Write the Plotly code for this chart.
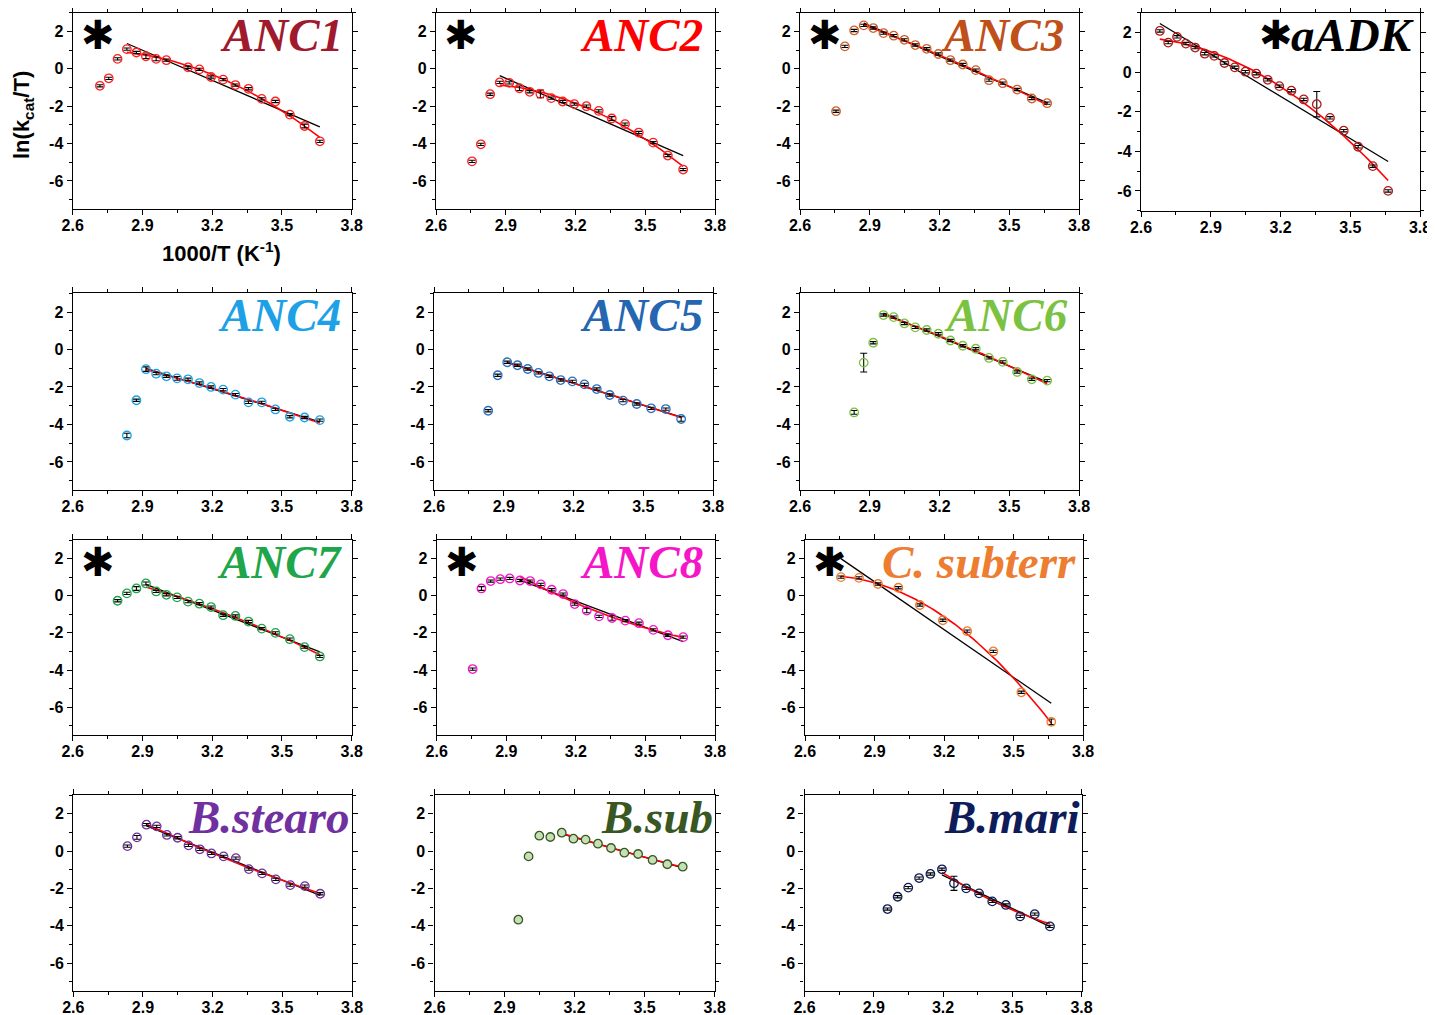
import numpy as np
import plotly.graph_objects as go

# ---------------- data ----------------
X = [2.681, 2.717, 2.755, 2.793, 2.833, 2.874, 2.915, 2.959, 3.003, 3.049,
     3.096, 3.145, 3.195, 3.247, 3.300, 3.356, 3.413, 3.472, 3.534, 3.597, 3.663]
N = None
ANC1 = [N, -0.91, -0.51, 0.53, 1.05, 0.87, 0.67, 0.53, 0.46, N, 0.08, -0.03, -0.44, -0.58,
        -0.87, -1.07, -1.61, -1.75, -2.45, -3.06, -3.88]
ANC2 = [N, N, -4.95, -4.04, -1.36, -0.73, -0.75, -1.04, -1.23, -1.34, -1.57, -1.75, -1.89,
        -2.00, -2.25, -2.66, -2.96, -3.41, -3.95, -4.64, -5.39]
ANC3 = [N, N, -2.27, 1.20, 2.05, 2.32, 2.18, 1.91, 1.77, 1.55, 1.27, 1.07, 0.79, 0.46, 0.23,
        -0.07, -0.61, -0.77, -1.11, -1.59, -1.84]
AADK = [2.08, 1.49, 1.78, 1.44, 1.24, 0.93, 0.82, 0.46, 0.24, 0.02, -0.08, -0.39, -0.71,
        -0.94, -1.38, -1.62, -2.31, -2.96, -3.77, -4.75, -6.00]
ANC4 = [N, N, N, N, -4.59, -2.71, -1.05, -1.29, -1.43, -1.54, -1.59, -1.79, -2.00, -2.14,
        -2.41, -2.82, -2.82, -3.20, -3.59, -3.63, -3.77]
ANC5 = [N, N, N, N, -3.27, -1.375, -0.68, -0.84, -1.04, -1.25, -1.43, -1.63, -1.70, -1.86,
        -2.11, -2.43, -2.73, -2.91, -3.14, -3.18, -3.71]
ANC6 = [N, N, N, N, -3.36, -0.70, 0.36, 1.84, 1.73, 1.39, 1.18, 1.04, 0.84, 0.48, 0.20,
        0.04, -0.45, -0.66, -1.20, -1.59, -1.66]
ANC7 = [N, N, N, -0.27, 0.125, 0.39, 0.66, 0.23, 0.05, -0.09, -0.32, -0.43, -0.61, -1.05,
        -1.09, -1.39, -1.77, -2.00, -2.34, -2.77, -3.27]
ANC8 = [N, N, -3.95, 0.39, 0.79, 0.89, 0.93, 0.82, 0.79, 0.61, 0.32, 0.09, -0.45, -0.80,
        -1.11, -1.20, -1.34, -1.48, -1.84, -2.13, -2.23]
CSUB = [N, N, 1.00, N, 0.96, N, 0.63, N, 0.43, N, -0.50, N, -1.32, N, -1.91, N, -3.00, N,
        -5.20, N, -6.79]
BSTEARO = [N, N, N, N, 0.26, 0.73, 1.41, 1.32, 0.86, 0.71, 0.30, 0.09, -0.13, -0.29, -0.38,
           -0.97, -1.20, -1.52, -1.83, -1.88, -2.29]
BSUB = [N, N, N, N, N, N, N, -3.68, -0.29, 0.82, 0.75, 0.98, 0.66, 0.61, 0.39, 0.16, -0.09,
        -0.16, -0.48, -0.71, -0.84]
BMARI = [N, N, N, N, N, N, N, -3.11, -2.45, -1.96, -1.45, -1.23, -0.98, -1.73, -2.00, -2.27,
         -2.70, -2.89, -3.50, -3.38, -4.04]

NAMES = ["ANC1", "ANC2", "ANC3", "aADK", "ANC4", "ANC5", "ANC6", "ANC7", "ANC8",
         "C. subterr", "B.stearo", "B.sub", "B.mari"]
SERIES = [ANC1, ANC2, ANC3, AADK, ANC4, ANC5, ANC6, ANC7, ANC8, CSUB, BSTEARO, BSUB, BMARI]
FIT_START = [4, 5, 5, 0, 6, 6, 7, 6, 7, 2, 6, 11, 12]
STARRED = [True, True, True, True, False, False, False, True, True, True, False, False, False]
ERR_DEFAULT = 0.06
ERR_LARGE = {0: {6: 0.12, 7: 0.1, 19: 0.1}, 1: {9: 0.2, 7: 0.12, 15: 0.1}, 3: {15: 0.64},
             4: {4: 0.12, 6: 0.12, 9: 0.1}, 5: {20: 0.12}, 6: {5: 0.5, 4: 0.1},
             7: {5: 0.1, 6: 0.08}, 8: {13: 0.12, 15: 0.12, 3: 0.1}, 9: {20: 0.15},
             10: {5: 0.1}, 12: {13: 0.38}}

X_TICKS = [2.6, 2.9, 3.2, 3.5, 3.8]
X_TICK_TEXT = ["2.6", "2.9", "3.2", "3.5", "3.8"]
Y_TICKS = [-6, -4, -2, 0, 2]
Y_TICK_TEXT = ["-6", "-4", "-2", "0", "2"]

# ---------------- styles ----------------
TITLE_COLORS = ["#A0192D", "#FF0000", "#C0501A", "#000000", "#1DA1E6", "#2467B0", "#7CC241",
                "#1FA64A", "#F516C8", "#ED7D31", "#7030A0", "#385723", "#0E1D5A"]
MARKER_COLORS = ["#FF2020", "#FF2020", "#D0602A", "#B01A1A", "#1DA1E6", "#2A70C0", "#7CC241",
                 "#1FA64A", "#F516C8", "#ED7D31", "#7030A0", "#385723", "#0E1D5A"]
# panel boxes in page pixels: left, right, top, bottom, ymin, title right edge
BOXES = [
    (72.7, 351.7, 12.7, 209, -7.5, 345), (436, 715, 12.7, 209, -7.5, 705),
    (800, 1079, 12.7, 209, -7.5, 1066), (1141, 1420, 12.7, 210.7, -7.0, 1416),
    (72.7, 351.7, 293.3, 490, -7.5, 343), (434, 713, 293.3, 490, -7.5, 705),
    (800, 1079, 293.3, 490, -7.5, 1070),
    (72.7, 351.7, 540, 735, -7.5, 345), (436.7, 715, 540, 735, -7.5, 705),
    (805, 1083, 540, 735, -7.5, 1078),
    (73.3, 352, 795, 991, -7.5, 352), (434.5, 714.7, 795, 991, -7.5, 715),
    (804.6, 1081.6, 795, 991, -7.5, 1082),
]
OFF = 8  # page body margin
W, H = 1435 - OFF, 1015 - OFF
SANS = "Liberation Sans, Arial, sans-serif"
SERIF = "Liberation Serif, Times New Roman, serif"


def px(xp):
    return (xp - OFF) / W


def py(yp):
    return 1 - (yp - OFF) / H


fig = go.Figure()
layout = dict(width=W, height=H, margin=dict(l=0, r=0, t=0, b=0, autoexpand=False),
              paper_bgcolor="white", plot_bgcolor="white", showlegend=False)
annotations = []

for i, (name, ys) in enumerate(zip(NAMES, SERIES)):
    sfx = "" if i == 0 else str(i + 1)
    xa, ya = "x" + sfx, "y" + sfx
    left, right, top, bottom, ymin, tright = BOXES[i]

    xs = np.array([x for x, y in zip(X, ys) if y is not None])
    yv = np.array([y for y in ys if y is not None], dtype=float)
    idx = [k for k, y in enumerate(ys) if y is not None]
    errs = [ERR_LARGE.get(i, {}).get(k, ERR_DEFAULT) for k in idx]

    # fits over the fitting range
    fx = np.array([X[k] for k in idx if k >= FIT_START[i]])
    fy = np.array([ys[k] for k in idx if k >= FIT_START[i]])
    grid = np.linspace(fx.min(), fx.max(), 80)
    lin = np.polyval(np.polyfit(fx, fy, 1), [fx.min(), fx.max()])
    quad = np.polyval(np.polyfit(fx, fy, 2), grid)

    fig.add_trace(go.Scatter(x=[fx.min(), fx.max()], y=lin, mode="lines",
                             line=dict(color="black", width=1.3), xaxis=xa, yaxis=ya,
                             hoverinfo="skip"))
    fig.add_trace(go.Scatter(x=grid, y=quad, mode="lines",
                             line=dict(color="#FF0000", width=1.6), xaxis=xa, yaxis=ya,
                             hoverinfo="skip"))
    mc = MARKER_COLORS[i]
    if name == "B.sub":
        marker = dict(symbol="circle", size=8.5, color="#C5E0B4", line=dict(color=mc, width=1.3))
    else:
        marker = dict(symbol="circle-open", size=8.5, color=mc, line=dict(color=mc, width=1.3))
    fig.add_trace(go.Scatter(x=xs, y=yv, mode="markers", marker=marker,
                             error_y=dict(type="data", array=errs, color="black",
                                          thickness=1.1, width=3.5),
                             xaxis=xa, yaxis=ya))

    xd = [px(left), px(right)]
    yd = [py(bottom), py(top)]
    tickfont = dict(family=SANS, size=16, color="black", weight="bold")
    common = dict(showline=True, linecolor="black", linewidth=1.4, mirror="allticks",
                  ticks="outside", ticklen=5, tickwidth=1.3, tickcolor="black",
                  showgrid=False, zeroline=False, tickfont=tickfont, fixedrange=True,
                  automargin=False)
    layout["xaxis" + sfx] = dict(domain=xd, anchor=ya, range=[2.6 - 1e-6, 3.8 + 1e-6],
                                 tickmode="array", tickvals=X_TICKS, ticktext=X_TICK_TEXT,
                                 ticklabelstandoff=-3,
                                 minor=dict(tickmode="linear", tick0=2.6, dtick=0.15,
                                            ticklen=3, tickwidth=1, tickcolor="black",
                                            ticks="outside"),
                                 **common)
    layout["yaxis" + sfx] = dict(domain=yd, anchor=xa, range=[ymin, 3],
                                 tickmode="array", tickvals=Y_TICKS, ticktext=Y_TICK_TEXT,
                                 minor=dict(tickmode="linear", tick0=-7, dtick=1,
                                            ticklen=3, tickwidth=1, tickcolor="black",
                                            ticks="outside"),
                                 **common)

    # panel title
    annotations.append(dict(text="<b><i>%s</i></b>" % name, x=px(tright), y=py(top + 22),
                            xref="paper", yref="paper", xanchor="right", yanchor="middle",
                            showarrow=False,
                            font=dict(family=SERIF, size=47, color=TITLE_COLORS[i])))
    if STARRED[i]:
        sx = 1276 if name == "aADK" else left + 25
        annotations.append(dict(text="\u2731", x=px(sx), y=py(top + 22),
                                xref="paper", yref="paper", xanchor="center",
                                yanchor="middle", showarrow=False,
                                font=dict(family="DejaVu Sans", size=40, color="black")))

# axis titles on the first panel
annotations.append(dict(text="<b>ln(k<sub>cat</sub>/T)</b>", x=px(23), y=py(115),
                        xref="paper", yref="paper", textangle=-90, showarrow=False,
                        xanchor="center", yanchor="middle",
                        font=dict(family=SANS, size=22, color="black")))
annotations.append(dict(text="<b>1000/T (K<sup>-1</sup>)</b>", x=px(221), y=py(252),
                        xref="paper", yref="paper", showarrow=False,
                        xanchor="center", yanchor="middle",
                        font=dict(family=SANS, size=22, color="black")))
layout["annotations"] = annotations
fig.update_layout(**layout)
fig.write_html("out.html", post_script="document.documentElement.style.overflow='hidden';"
                                       "document.body.style.overflow='hidden';")
